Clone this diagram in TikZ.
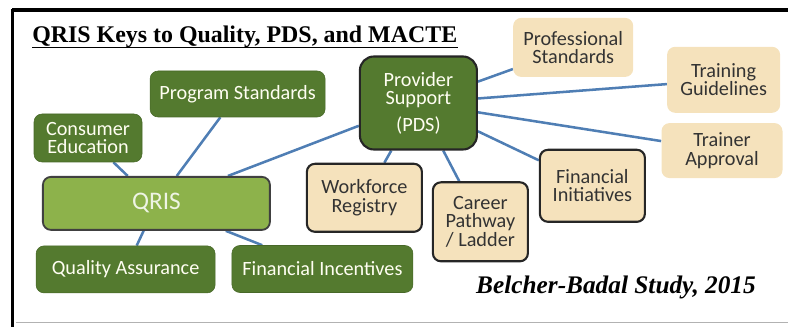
\documentclass[tikz,border=0pt]{standalone}
\usepackage{fontspec}
\setmainfont{Carlito}
\newfontfamily\titlefont{Liberation Serif}
\usetikzlibrary{backgrounds}
\definecolor{dkgrn}{RGB}{84,122,47}
\definecolor{ltgrn}{RGB}{141,178,75}
\definecolor{tan}{RGB}{245,226,188}
\definecolor{lnblue}{RGB}{79,126,180}
\begin{document}
\begin{tikzpicture}[
  box/.style={rounded corners=0.2cm, align=center, inner sep=0pt,
    font=\fontsize{14.4}{13}\selectfont},
  grnbox/.style={box, fill=dkgrn, draw=dkgrn!85!black, line width=0.4pt, text=white!95!yellow},
  tanbox/.style={box, fill=tan, text=black!80},
  tanedge/.style={tanbox, draw=black!85, line width=1.5pt},
  link/.style={lnblue, line width=1.8pt}
]
\useasboundingbox (0,0) rectangle (19.7,8.175);

% frame
\draw [line width=2.2pt] (0.31,7.925) -- (19.7,7.925);
\draw [line width=2.5pt] (0.31,7.95) -- (0.31,0);
\draw [black!30, line width=0.6pt] (0.4,0.125) -- (19.7,0.125);

% title
\node (t) at (0.8,7.1) [anchor=base west, inner sep=0pt,
  font=\titlefont\bfseries\fontsize{17}{17}\selectfont] {QRIS Keys to Quality, PDS, and MACTE};
\draw [line width=1.1pt] ([yshift=-0.11cm]t.base west) -- ([yshift=-0.11cm]t.base east);

% QRIS side
\node (v1) at (5.94,5.825) [grnbox, minimum width=4.375cm, minimum height=1.15cm] {Program Standards};
\node (v2) at (2.2,4.725) [grnbox, minimum width=2.7cm, minimum height=1.2cm] {Consumer\\Education};
\node (v3) at (3.91,3.09) [box, fill=ltgrn, draw=black!75, line width=1.3pt, text=white!85!ltgrn,
  minimum width=5.675cm, minimum height=1.325cm, font=\fontsize{18}{18}\selectfont] {QRIS};
\node (v4) at (3.14,1.44) [grnbox, minimum width=4.475cm, minimum height=1.175cm] {Quality Assurance};
\node (v5) at (8.06,1.45) [grnbox, minimum width=4.525cm, minimum height=1.175cm] {Financial Incentives};

% PDS side
\node (v6) at (10.46,5.6) [grnbox, rounded corners=0.35cm, draw=black!85, line width=1.5pt,
  minimum width=2.925cm, minimum height=2.325cm] {Provider\\Support\\[6pt](PDS)};
\node (v7) at (14.33,6.99) [tanbox, minimum width=3cm, minimum height=1.475cm] {Professional\\Standards};
\node (v8) at (18.09,6.18) [tanbox, minimum width=2.825cm, minimum height=1.65cm] {Training\\Guidelines};
\node (v9) at (18.05,4.41) [tanbox, minimum width=3.025cm, minimum height=1.375cm] {Trainer\\Approval};
\node (v10) at (14.81,3.53) [tanedge, minimum width=2.625cm, minimum height=1.8cm] {Financial\\Initiatives};
\node (v11) at (9.11,3.23) [tanedge, minimum width=2.875cm, minimum height=1.7cm] {Workforce\\Registry};
\node (v12) at (12.01,2.63) [tanedge, minimum width=2.375cm, minimum height=1.975cm] {Career\\Pathway\\/ Ladder};

\node (v13) at (15.4,0.825) [anchor=base, inner sep=0pt,
  font=\titlefont\bfseries\itshape\fontsize{18}{18}\selectfont] {Belcher-Badal Study, 2015};

\begin{scope}[on background layer]
\draw [link] (v2) -- (v3);
\draw [link] (v1) -- (v3);
\draw [link] (v6) -- (v3);
\draw [link] (v3) -- (v4);
\draw [link] (v3) -- (v5);
\draw [link] (v6) -- (v7);
\draw [link] (v6) -- (v8);
\draw [link] (v6) -- (v9);
\draw [link] (v6) -- (v10);
\draw [link] (v6) -- (v11);
\draw [link] (v6) -- (v12);
\end{scope}
\end{tikzpicture}
\end{document}
